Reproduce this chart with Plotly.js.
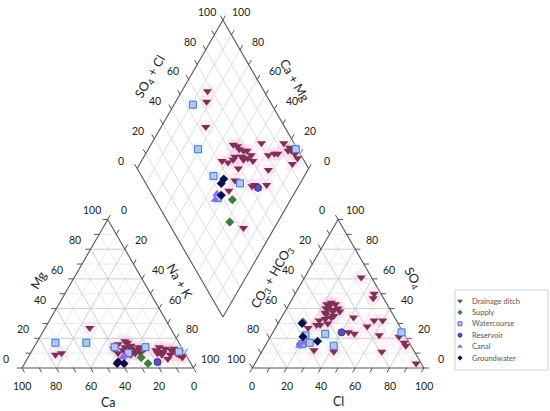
<!DOCTYPE html>
<html lang="en">
<head>
<meta charset="UTF-8">
<title>Piper diagram</title>
<script src="https://cdn.plot.ly/plotly-3.0.1.min.js"></script>
<style>
    body { margin: 0; background: #fff; }
    #myDiv { width: 550px; height: 411px; }
</style>
</head>
<body>
<div id="myDiv"></div>
<script>
// meq %, one entry per sample
// cations: Ca, Mg (Na+K is the rest) / anions: SO4, Cl (CO3+HCO3 is the rest)
var ditchCa  = [36,31,35,29,32,30,30,30,25,26,26,16,14,13,10,9,5,5,3,14,22,40,39,33,32,27,13,16,7,29,12,76,72,47,5,4,3];
var ditchMg  = [16,18,12,15,10,17,13,11,14,12,10,12,11,10,13,9,11,13,8,9,13,13,10,14,9,12,14,10,12,10,6,9,10,27,10,9,7];
var ditchSO4 = [40,42,38,44,40,36,35,43,24,23,11,28,22,32,61,47,50,21,32,34,38,29,32,33,30,11,37,40,43,27,12,39,34,29,17,15,3];
var ditchCl  = [24,24,28,24,30,25,30,22,44,48,70,53,63,55,33,47,46,75,60,42,32,23,23,26,29,42,24,23,27,19,30,28,29,25,80,82,94];

var supCa = [27,25], supMg = [7,3], supSO4 = [31,16], supCl = [14,20];
var wcCa  = [72,54,39,21,33,3], wcMg = [17,17,14,14,10,11];
var wcSO4 = [23,17,22,15,16,24], wcCl = [31,25,20,40,21,75];
var resCa = [19], resMg = [4], resSO4 = [24], resCl = [40];
var canCa = [38,36], canMg = [7,8], canSO4 = [17,15], canCl = [21,20];
var gwCa  = [43,42,39], gwMg = [3,4,3], gwSO4 = [18,30,21], gwCl = [29,14,19];

var seriesNames = ['Drainage ditch','Supply','Watercourse','Reservoir','Canal','Groundwater'];
var tickVals = [0,20,40,60,80,100];

var G = 34.3;              // gap between the two triangles
var H = Math.sqrt(3) / 2;
var FONT = 'Lato, "Liberation Sans", sans-serif';

function cationXY(ca, mg) { var nak = 100 - ca - mg; return [nak + mg / 2, mg * H]; }
function anionXY(so4, cl) { return [100 + G + cl + so4 / 2, so4 * H]; }
function diamondXY(camg, so4cl) { return [100 + G / 2 + (so4cl - camg) / 2, G * H + (camg + so4cl) * H]; }

function piperPoints(ca, mg, so4, cl) {
    var x = [], y = [], i, p;
    for (i = 0; i < ca.length; i++) { p = cationXY(ca[i], mg[i]); x.push(p[0]); y.push(p[1]); }
    for (i = 0; i < ca.length; i++) { p = anionXY(so4[i], cl[i]); x.push(p[0]); y.push(p[1]); }
    for (i = 0; i < ca.length; i++) { p = diamondXY(ca[i] + mg[i], so4[i] + cl[i]); x.push(p[0]); y.push(p[1]); }
    return {x: x, y: y};
}

function lineTrace(segs, color, width) {
    var x = [], y = [];
    segs.forEach(function (s) {
        for (var k = 0; k < s.length; k++) { x.push(s[k][0]); y.push(s[k][1]); }
        x.push(null); y.push(null);
    });
    return {x: x, y: y, type: 'scatter', mode: 'lines', line: {color: color, width: width},
            hoverinfo: 'skip', showlegend: false};
}

// grid
var minor = [], major = [], dgrid = [];
for (var k = 10; k < 100; k += 10) {
    var tgt = (k % 20 == 0) ? major : minor;
    tgt.push([cationXY(100 - k, k), cationXY(0, k)]);
    tgt.push([cationXY(k, 0), cationXY(k, 100 - k)]);
    tgt.push([cationXY(100 - k, 0), cationXY(0, 100 - k)]);
    tgt.push([anionXY(k, 0), anionXY(k, 100 - k)]);
    tgt.push([anionXY(0, k), anionXY(100 - k, k)]);
    tgt.push([anionXY(0, 100 - k), anionXY(100 - k, 0)]);
    dgrid.push([diamondXY(k, 0), diamondXY(k, 100)]);
    dgrid.push([diamondXY(0, k), diamondXY(100, k)]);
}

// frames
var frames = [
    [cationXY(100, 0), cationXY(0, 0), cationXY(0, 100), cationXY(100, 0)],
    [anionXY(0, 0), anionXY(0, 100), anionXY(100, 0), anionXY(0, 0)],
    [diamondXY(0, 0), diamondXY(100, 0), diamondXY(100, 100), diamondXY(0, 100), diamondXY(0, 0)]
];

// ticks every 10, along the grid direction
var TL = 3;
function tk(p, d) { return [p, [p[0] + d[0] * TL, p[1] + d[1] * TL]]; }
var ticks = [];
for (k = 0; k <= 100; k += 10) {
    ticks.push(tk(cationXY(k, 0), [0.5, -H]));
    ticks.push(tk(cationXY(100 - k, k), [-1, 0]));
    ticks.push(tk(cationXY(0, 100 - k), [0.5, H]));
    ticks.push(tk(anionXY(0, k), [-0.5, -H]));
    ticks.push(tk(anionXY(100 - k, 0), [-0.5, H]));
    ticks.push(tk(anionXY(k, 100 - k), [1, 0]));
    ticks.push(tk(diamondXY(100, k), [-0.5, H]));
    ticks.push(tk(diamondXY(k, 100), [0.5, H]));
}

var data = [
    lineTrace(minor, '#e6e6e6', 0.8),
    lineTrace(dgrid, '#d6d6d6', 0.8),
    lineTrace(major, '#c8c8c8', 0.9),
    lineTrace(frames, '#555555', 1.1),
    lineTrace(ticks, '#555555', 1)
];

// faint halos behind the points
var ditchPts = piperPoints(ditchCa, ditchMg, ditchSO4, ditchCl);
var wcPts = piperPoints(wcCa, wcMg, wcSO4, wcCl);
data.push({x: ditchPts.x, y: ditchPts.y, type: 'scatter', mode: 'markers', hoverinfo: 'skip', showlegend: false,
           marker: {symbol: 'square', size: 13, color: 'rgba(255,180,225,0.22)'}});
data.push({x: wcPts.x, y: wcPts.y, type: 'scatter', mode: 'markers', hoverinfo: 'skip', showlegend: false,
           marker: {symbol: 'square', size: 13, color: 'rgba(175,255,245,0.3)'}});

var seriesPts = [
    ditchPts,
    piperPoints(supCa, supMg, supSO4, supCl),
    wcPts,
    piperPoints(resCa, resMg, resSO4, resCl),
    piperPoints(canCa, canMg, canSO4, canCl),
    piperPoints(gwCa, gwMg, gwSO4, gwCl)
];
var markers = [
    {symbol: 'triangle-down', size: 8, color: '#7d3054'},
    {symbol: 'diamond', size: 7, color: '#3d7d3d'},
    {symbol: 'square', size: 7, color: '#b4c6f0', line: {color: '#5a6cc4', width: 1}},
    {symbol: 'circle', size: 7, color: '#5b4fb8', line: {color: '#3a3090', width: 1}},
    {symbol: 'triangle-up', size: 8, color: '#8c6cf0'},
    {symbol: 'diamond', size: 7, color: '#0d0d4f'}
];
seriesNames.forEach(function (nm, i) {
    data.push({x: seriesPts[i].x, y: seriesPts[i].y, name: nm, type: 'scatter', mode: 'markers',
               marker: markers[i], showlegend: false});
    // legend entry, drawn on its own little category axis
    var lm = JSON.parse(JSON.stringify(markers[i]));
    lm.size = Math.max(lm.size - 3, 4);
    data.push({x: [0], y: [nm], type: 'scatter', mode: 'markers', xaxis: 'x2', yaxis: 'y2',
               marker: lm, hoverinfo: 'skip', showlegend: false});
});

// tick labels
var ann = [];
function lab(p, v, dx, dy) {
    ann.push({x: p[0], y: p[1], text: String(v), showarrow: false, xshift: dx, yshift: dy,
              font: {family: FONT, size: 10.5, color: '#222'}});
}
tickVals.forEach(function (v) {
    lab(cationXY(v, 0), v, 0, -18);                 // Ca
    lab(cationXY(100 - v, v), v, -16, 9);           // Mg
    lab(cationXY(0, 100 - v), v, 16, 9);            // Na+K
    lab(anionXY(0, v), v, 0, -18);                  // Cl
    lab(anionXY(100 - v, 0), v, -16, 9);            // CO3+HCO3
    lab(anionXY(v, 100 - v), v, 17, 9);             // SO4
    lab(diamondXY(100, v), v, -16, 8);              // SO4+Cl
    lab(diamondXY(v, 100), v, 18, 8);               // Ca+Mg
});

// axis titles
function ttl(txt, px, py, ang) {
    ann.push({xref: 'paper', yref: 'paper', x: px / 550, y: 1 - py / 411, text: txt, showarrow: false,
              textangle: ang, xanchor: 'center', yanchor: 'middle', font: {family: FONT, size: 12.5, color: '#222'}});
}
ttl('Mg', 38, 280, -60);
ttl('Ca', 108, 402, 0);
ttl('Na + K', 180, 281, 60);
ttl('CO<sub>3</sub> + HCO<sub>3</sub>', 272, 277, -60);
ttl('SO<sub>4</sub>', 413, 278, 60);
ttl('Cl', 338, 401, 0);
ttl('SO<sub>4</sub> + Cl', 150, 77, -60);
ttl('Ca + Mg', 295, 80, 60);

var layout = {
    width: 550, height: 411,
    margin: {l: 0, r: 0, t: 0, b: 0},
    paper_bgcolor: '#fff', plot_bgcolor: 'rgba(0,0,0,0)',
    showlegend: false,
    xaxis: {range: [-12.83, 307.87], visible: false, fixedrange: true},
    yaxis: {range: [-25.07, 214.58], visible: false, fixedrange: true},
    xaxis2: {domain: [455 / 550, 465 / 550], range: [-1, 1], visible: false, anchor: 'y2'},
    yaxis2: {domain: [1 - 363.6 / 411, 1 - 295.4 / 411], anchor: 'x2', type: 'category',
             categoryarray: seriesNames, categoryorder: 'array', range: [5.5, -0.5], side: 'right',
             showgrid: false, zeroline: false, showline: false, ticks: '', ticklabelstandoff: 6,
             tickfont: {family: FONT, size: 7.5, color: '#555'}},
    shapes: [{type: 'rect', xref: 'paper', yref: 'paper', x0: 455 / 550, x1: 548 / 550,
              y0: 1 - 370 / 411, y1: 1 - 290 / 411, line: {color: '#d0d0d0', width: 1}}],
    annotations: ann
};

Plotly.newPlot('myDiv', data, layout, {staticPlot: true, displayModeBar: false});
</script>
</body>
</html>
